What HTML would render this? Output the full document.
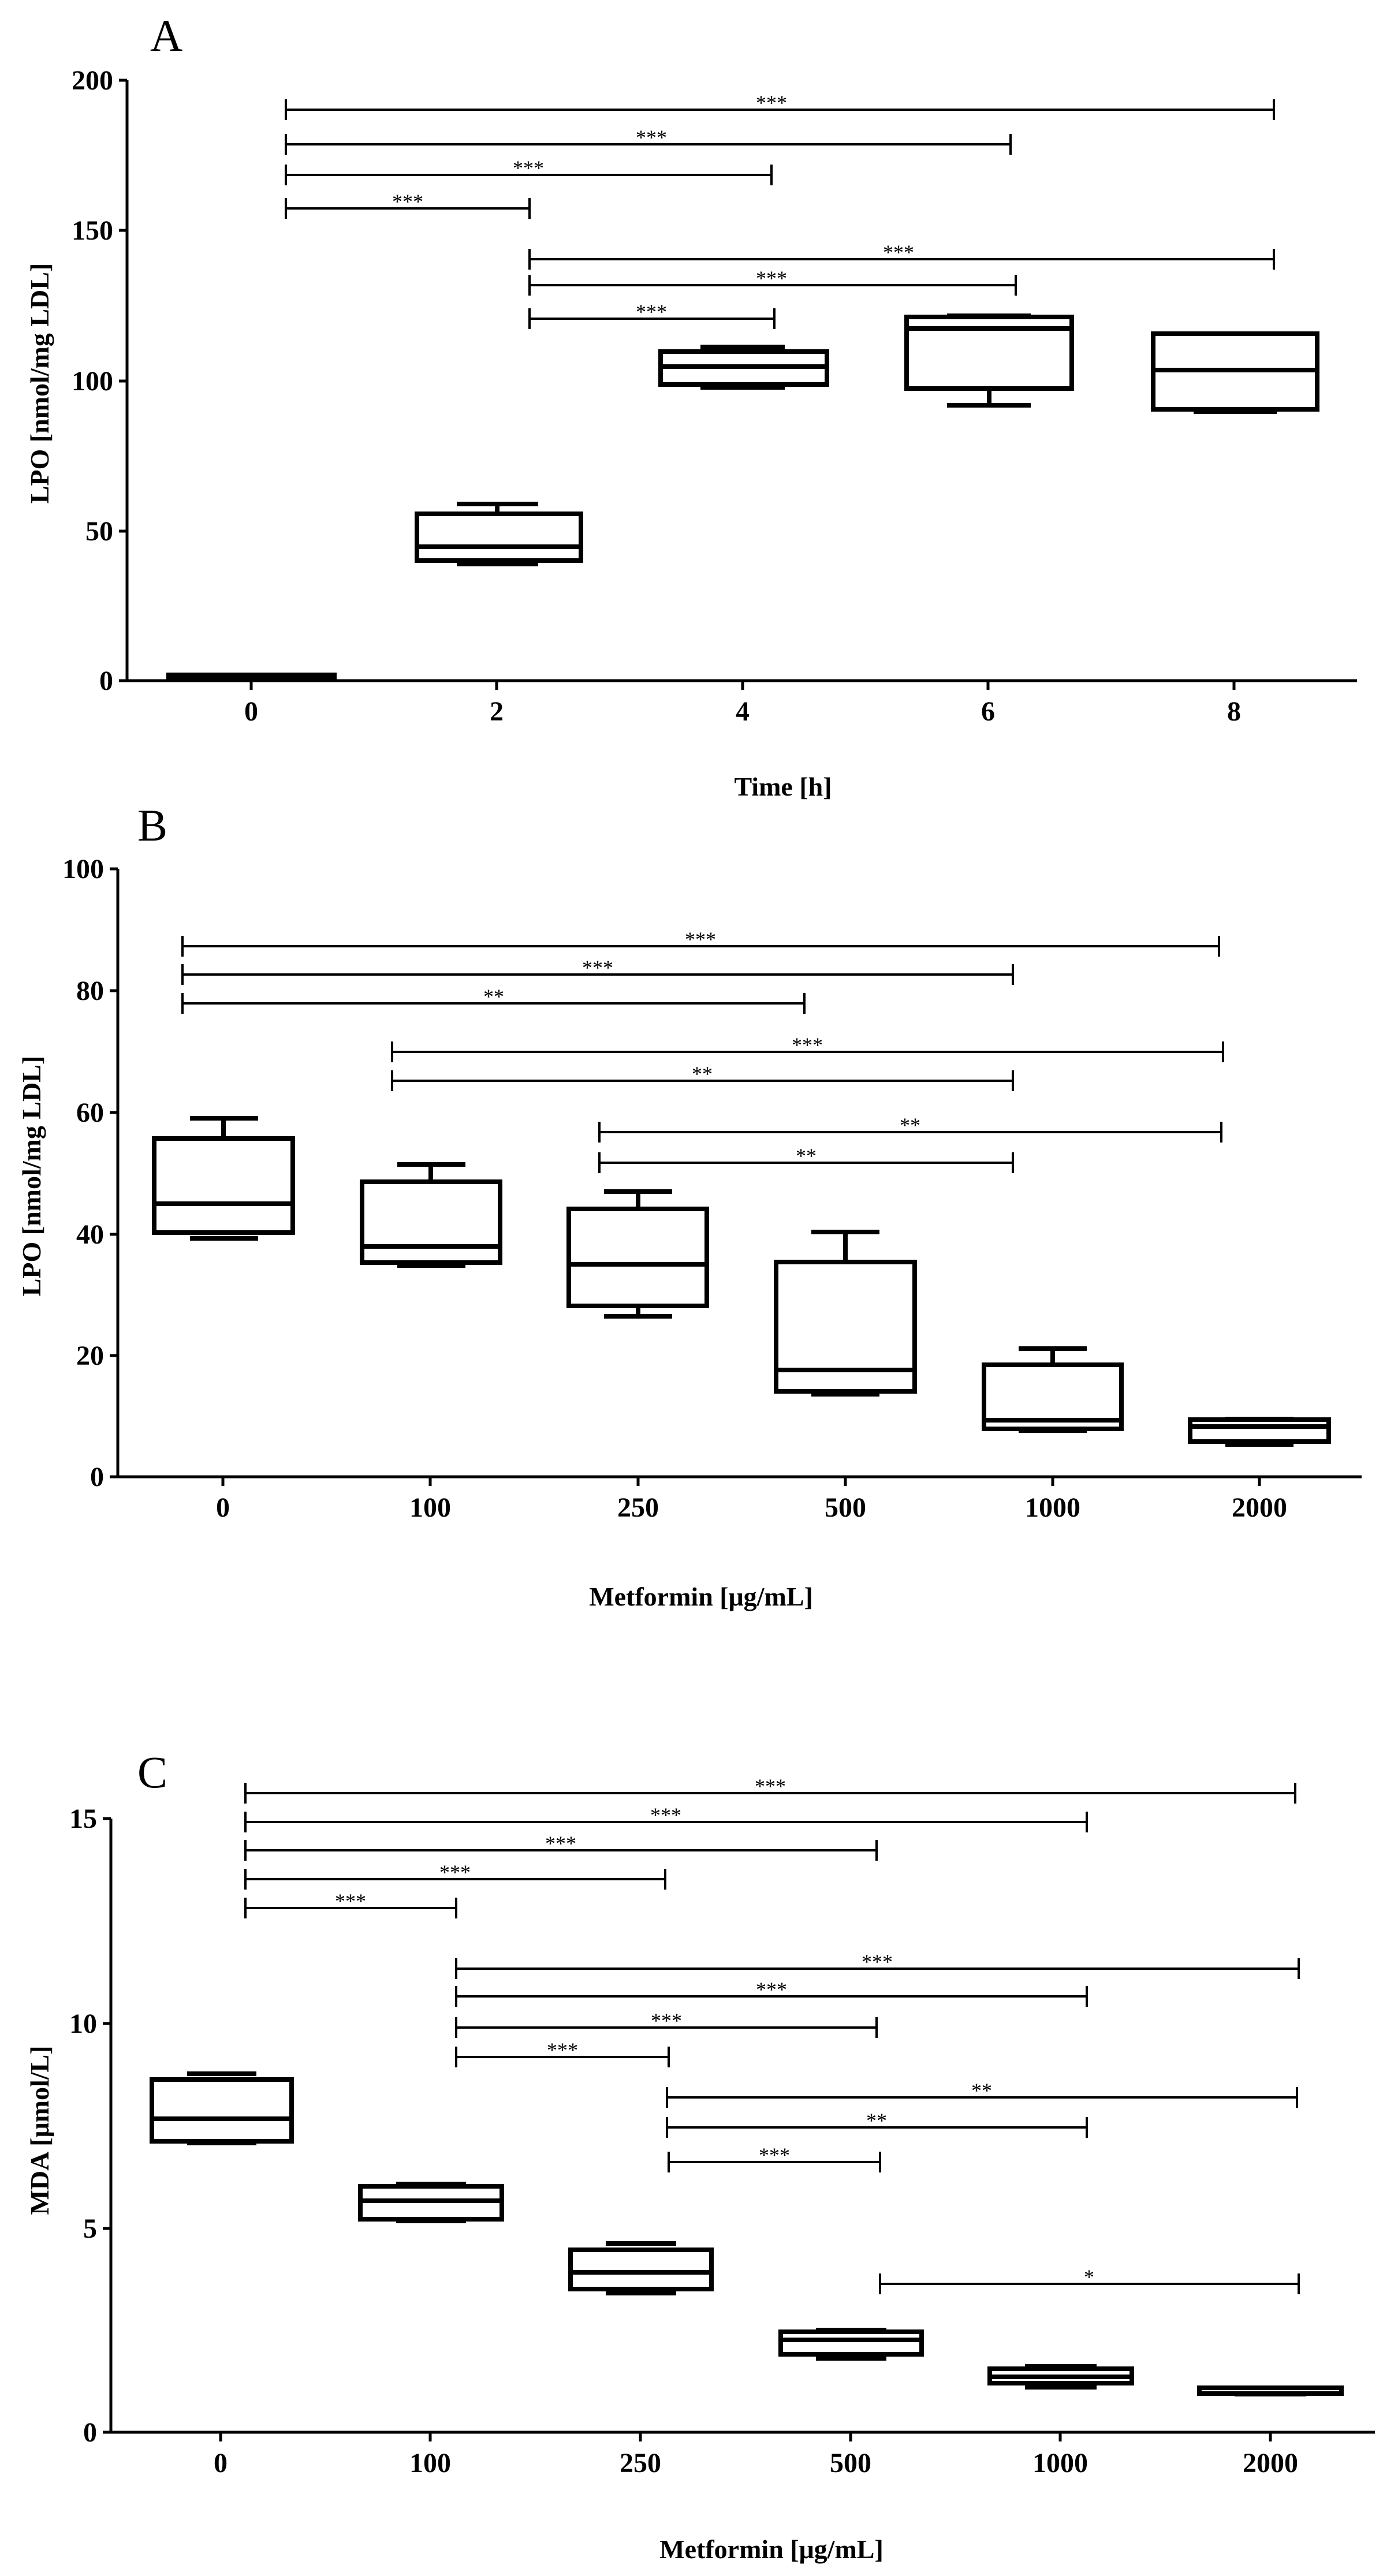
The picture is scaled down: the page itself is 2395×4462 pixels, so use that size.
<!DOCTYPE html>
<html><head><meta charset="utf-8"><style>
html,body{margin:0;padding:0;background:#fff}
svg{display:block}
text{font-family:"Liberation Serif",serif;fill:#000}
.t{font-size:48px;font-weight:bold}
.l{font-size:46px;font-weight:bold}
.s{font-size:36px}
.p{font-size:78px}
</style></head><body>
<svg width="2395" height="4462" viewBox="0 0 2395 4462" xmlns="http://www.w3.org/2000/svg">
<defs>
<path id="tk" d="M0 -18V18" />
</defs>
<g stroke="#000" fill="none" stroke-linecap="butt">
<!-- ============ Panel A ============ -->
<g stroke-width="5">
<path d="M220 139V1179H2350"/>
<path d="M206 139H220M206 399H220M206 660H220M206 920H220M206 1179H220"/>
<path d="M435 1179v16M860 1179v16M1286 1179v16M1711 1179v16M2137 1179v16"/>
</g>
<g stroke-width="4">
<path d="M495 190H2206M495 172v36M2206 172v36"/>
<path d="M495 250H1750M495 232v36M1750 232v36"/>
<path d="M495 303H1336M495 285v36M1336 285v36"/>
<path d="M495 361H917M495 343v36M917 343v36"/>
<path d="M917 449H2206M917 431v36M2206 431v36"/>
<path d="M917 494H1759M917 476v36M1759 476v36"/>
<path d="M917 552H1341M917 534v36M1341 534v36"/>
</g>
<g stroke-width="8">
<rect x="292" y="1169" width="287" height="7"/>
<rect x="722" y="890" width="284" height="81"/><path d="M722 947H1006M861 890V873M791 873H932M791 977H932"/>
<rect x="1144" y="609" width="288" height="57"/><path d="M1144 635H1432M1213 601H1359M1213 671H1359"/>
<rect x="1570" y="549" width="286" height="124"/><path d="M1570 569H1856M1713 673V702M1640 702H1785M1640 547H1785"/>
<rect x="1997" y="578" width="284" height="131"/><path d="M1997 641H2281M2067 713H2211"/>
</g>
<!-- ============ Panel B ============ -->
<g stroke-width="5">
<path d="M204 1505V2558H2358"/>
<path d="M190 1505H204M190 1716H204M190 1927H204M190 2138H204M190 2348H204M190 2558H204"/>
<path d="M386 2558v16M745 2558v16M1105 2558v16M1464 2558v16M1823 2558v16M2181 2558v16"/>
</g>
<g stroke-width="4">
<path d="M316 1639H2111M316 1621v36M2111 1621v36"/>
<path d="M316 1688H1754M316 1670v36M1754 1670v36"/>
<path d="M316 1738H1393M316 1720v36M1393 1720v36"/>
<path d="M679 1822H2118M679 1804v36M2118 1804v36"/>
<path d="M679 1872H1754M679 1854v36M1754 1854v36"/>
<path d="M1038 1961H2115M1038 1943v36M2115 1943v36"/>
<path d="M1038 2014H1754M1038 1996v36M1754 1996v36"/>
</g>
<g stroke-width="8">
<rect x="267" y="1972" width="240" height="163"/><path d="M267 2085H507M387 1972V1937M329 1937H447M329 2145H447"/>
<rect x="627" y="2047" width="239" height="140"/><path d="M627 2159H866M746 2047V2017M688 2017H806M688 2192H806"/>
<rect x="985" y="2094" width="239" height="168"/><path d="M985 2190H1224M1105 2094V2064M1046 2064H1164M1105 2262V2280M1046 2280H1164"/>
<rect x="1344" y="2186" width="240" height="224"/><path d="M1344 2373H1584M1464 2186V2134M1405 2134H1523M1405 2415H1523"/>
<rect x="1704" y="2364" width="238" height="111"/><path d="M1704 2460H1942M1823 2364V2336M1764 2336H1882M1764 2478H1882"/>
<rect x="2061" y="2459" width="240" height="38"/><path d="M2061 2471H2301M2122 2502H2240M2122 2458H2240"/>
</g>
<!-- ============ Panel C ============ -->
<g stroke-width="5">
<path d="M192 3150V4213H2381"/>
<path d="M178 3150H192M178 3505H192M178 3860H192M178 4213H192"/>
<path d="M382 4213v16M745 4213v16M1109 4213v16M1473 4213v16M1836 4213v16M2200 4213v16"/>
</g>
<g stroke-width="4">
<path d="M425 3106H2243M425 3088v36M2243 3088v36"/>
<path d="M425 3156H1882M425 3138v36M1882 3138v36"/>
<path d="M425 3205H1518M425 3187v36M1518 3187v36"/>
<path d="M425 3255H1152M425 3237v36M1152 3237v36"/>
<path d="M425 3305H790M425 3287v36M790 3287v36"/>
<path d="M790 3410H2249M790 3392v36M2249 3392v36"/>
<path d="M790 3458H1882M790 3440v36M1882 3440v36"/>
<path d="M790 3512H1518M790 3494v36M1518 3494v36"/>
<path d="M790 3563H1158M790 3545v36M1158 3545v36"/>
<path d="M1155 3633H2246M1155 3615v36M2246 3615v36"/>
<path d="M1155 3685H1882M1155 3667v36M1882 3667v36"/>
<path d="M1158 3745H1524M1158 3727v36M1524 3727v36"/>
<path d="M1524 3956H2249M1524 3938v36M2249 3938v36"/>
</g>
<g stroke-width="8">
<rect x="263" y="3602" width="242" height="107"/><path d="M263 3670H505M324 3592H444M324 3712H444"/>
<rect x="624" y="3787" width="245" height="57"/><path d="M624 3812H869M686 3783H807M686 3847H807"/>
<rect x="988" y="3897" width="244" height="68"/><path d="M988 3936H1232M1049 3886H1171M1049 3972H1171"/>
<rect x="1352" y="4039" width="244" height="39"/><path d="M1352 4053H1596M1413 4036H1535M1413 4085H1535"/>
<rect x="1714" y="4103" width="246" height="25"/><path d="M1714 4117H1960M1775 4099H1899M1775 4135H1899"/>
<rect x="2077" y="4136" width="246" height="10"/><path d="M2138 4147H2262"/>
</g>
</g>

<!-- Text A -->
<text class="p" x="260" y="88">A</text>
<g class="t" text-anchor="end">
<text x="196" y="155">200</text><text x="196" y="415">150</text><text x="196" y="676">100</text><text x="196" y="936">50</text><text x="196" y="1195">0</text>
</g>
<g class="t" text-anchor="middle">
<text x="435" y="1248">0</text><text x="860" y="1248">2</text><text x="1286" y="1248">4</text><text x="1711" y="1248">6</text><text x="2137" y="1248">8</text>
</g>
<text class="l" x="1356" y="1378" text-anchor="middle">Time [h]</text>
<text class="l" transform="translate(84 664) rotate(-90)" text-anchor="middle">LPO [nmol/mg LDL]</text>
<g class="s" text-anchor="middle">
<text x="1336" y="190">***</text><text x="1128" y="250">***</text><text x="915" y="303">***</text><text x="706" y="361">***</text>
<text x="1556" y="449">***</text><text x="1336" y="494">***</text><text x="1128" y="552">***</text>
</g>

<!-- Text B -->
<text class="p" x="238" y="1456">B</text>
<g class="t" text-anchor="end">
<text x="180" y="1521">100</text><text x="180" y="1732">80</text><text x="180" y="1943">60</text><text x="180" y="2154">40</text><text x="180" y="2364">20</text><text x="180" y="2574">0</text>
</g>
<g class="t" text-anchor="middle">
<text x="386" y="2627">0</text><text x="745" y="2627">100</text><text x="1105" y="2627">250</text><text x="1464" y="2627">500</text><text x="1823" y="2627">1000</text><text x="2181" y="2627">2000</text>
</g>
<text class="l" x="1214" y="2781" text-anchor="middle">Metformin [μg/mL]</text>
<text class="l" transform="translate(70 2037) rotate(-90)" text-anchor="middle">LPO [nmol/mg LDL]</text>
<g class="s" text-anchor="middle">
<text x="1213" y="1639">***</text><text x="1035" y="1688">***</text><text x="855" y="1738">**</text>
<text x="1398" y="1822">***</text><text x="1216" y="1872">**</text><text x="1576" y="1961">**</text><text x="1396" y="2014">**</text>
</g>

<!-- Text C -->
<text class="p" x="238" y="3096">C</text>
<g class="t" text-anchor="end">
<text x="168" y="3166">15</text><text x="168" y="3521">10</text><text x="168" y="3876">5</text><text x="168" y="4229">0</text>
</g>
<g class="t" text-anchor="middle">
<text x="382" y="4282">0</text><text x="745" y="4282">100</text><text x="1109" y="4282">250</text><text x="1473" y="4282">500</text><text x="1836" y="4282">1000</text><text x="2200" y="4282">2000</text>
</g>
<text class="l" x="1336" y="4431" text-anchor="middle">Metformin [μg/mL]</text>
<text class="l" transform="translate(84 3690) rotate(-90)" text-anchor="middle">MDA [μmol/L]</text>
<g class="s" text-anchor="middle">
<text x="1334" y="3106">***</text><text x="1153" y="3156">***</text><text x="971" y="3205">***</text><text x="788" y="3255">***</text><text x="607" y="3305">***</text>
<text x="1519" y="3410">***</text><text x="1336" y="3458">***</text><text x="1154" y="3512">***</text><text x="974" y="3563">***</text>
<text x="1700" y="3633">**</text><text x="1518" y="3685">**</text><text x="1341" y="3745">***</text><text x="1886" y="3956">*</text>
</g>
</svg>
</body></html>
